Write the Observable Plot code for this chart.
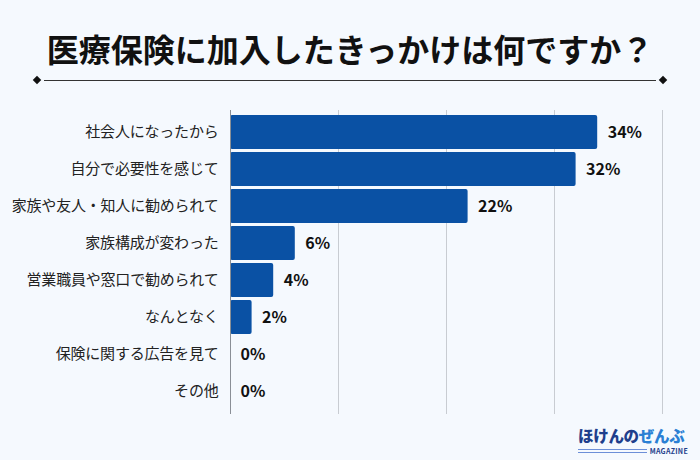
<!DOCTYPE html>
<html><head><meta charset="utf-8">
<script src="https://cdn.jsdelivr.net/npm/d3@7"></script>
<script src="https://cdn.jsdelivr.net/npm/@observablehq/plot@0.6"></script>
<style>
html,body{margin:0;padding:0;}
body{width:700px;height:460px;background:#f5f9fe;position:relative;overflow:hidden;font-family:"Noto Sans CJK JP","Noto Sans",sans-serif;}
#title{position:absolute;left:0;top:26px;width:700px;text-align:center;font-size:32px;font-weight:700;color:#111;line-height:44px;white-space:nowrap;}
#rule{position:absolute;left:44px;width:612px;top:80px;height:1px;background:#333;}
.dia{position:absolute;top:77px;width:6px;height:6px;background:#111;transform:rotate(45deg);}
#chart{position:absolute;left:0;top:95px;}
#chart svg g[aria-label="y-axis tick label"] text{letter-spacing:-0.2px;}
#logo{position:absolute;left:578px;top:426px;width:116px;}
#logo .t{font-size:15.5px;font-weight:900;letter-spacing:-0.3px;line-height:18px;white-space:nowrap;}
#logo .a{color:#1f3f8c;}
#logo .b{color:#2a7fd4;}
#logo .m{display:flex;align-items:center;margin-top:3px;width:110px;}
#logo .bar{flex:1;height:2px;border-top:1.5px solid #6c8fd8;border-bottom:1.5px solid #6c8fd8;margin-right:3px;}
#logo .mg{font-size:7px;font-weight:700;color:#1f3f8c;letter-spacing:0.3px;line-height:8px;}
</style></head>
<body>
<div id="title">医療保険に加入したきっかけは何ですか？</div>
<div class="dia" style="left:34px"></div>
<div id="rule"></div>
<div class="dia" style="left:660px"></div>
<div id="chart"></div>
<div id="logo"><div class="t"><span class="a">ほけんの</span><span class="b">ぜんぶ</span></div>
<div class="m"><div class="bar"></div><div class="mg">MAGAZINE</div></div></div>
<script>
const categories = ["社会人になったから","自分で必要性を感じて","家族や友人・知人に勧められて","家族構成が変わった","営業職員や窓口で勧められて","なんとなく","保険に関する広告を見て","その他"];
const values = [34, 32, 22, 6, 4, 2, 0, 0];
const gridTicks = [10, 20, 30, 40];
const data = categories.map((c, i) => ({category: c, value: values[i]}));

const chart = Plot.plot({
  width: 700,
  height: 340,
  marginLeft: 230,
  marginRight: 38,
  marginTop: 15,
  marginBottom: 21,
  style: {background: "transparent", fontFamily: "'Noto Sans CJK JP', sans-serif"},
  x: {domain: [0, 40], axis: null},
  y: {domain: categories, padding: 0.07, label: null, tickSize: 0, tickPadding: 12},
  marks: [
    Plot.ruleX(gridTicks, {stroke: "#c8ccd2", strokeWidth: 1}),
    Plot.barX(data, {x: "value", y: "category", fill: "#0a51a4", rx: 2}),
    Plot.ruleX([0], {stroke: "#8a8f96", strokeWidth: 1}),
    Plot.text(data, {x: "value", y: "category", text: d => d.value + "%", dx: 10, textAnchor: "start", fontSize: 16, fontWeight: 700, fill: "#111"}),
    Plot.axisY({tickSize: 0, tickPadding: 12, fontSize: 15, label: null, fill: "#222"})
  ]
});
document.getElementById("chart").appendChild(chart);
</script>
</body></html>
